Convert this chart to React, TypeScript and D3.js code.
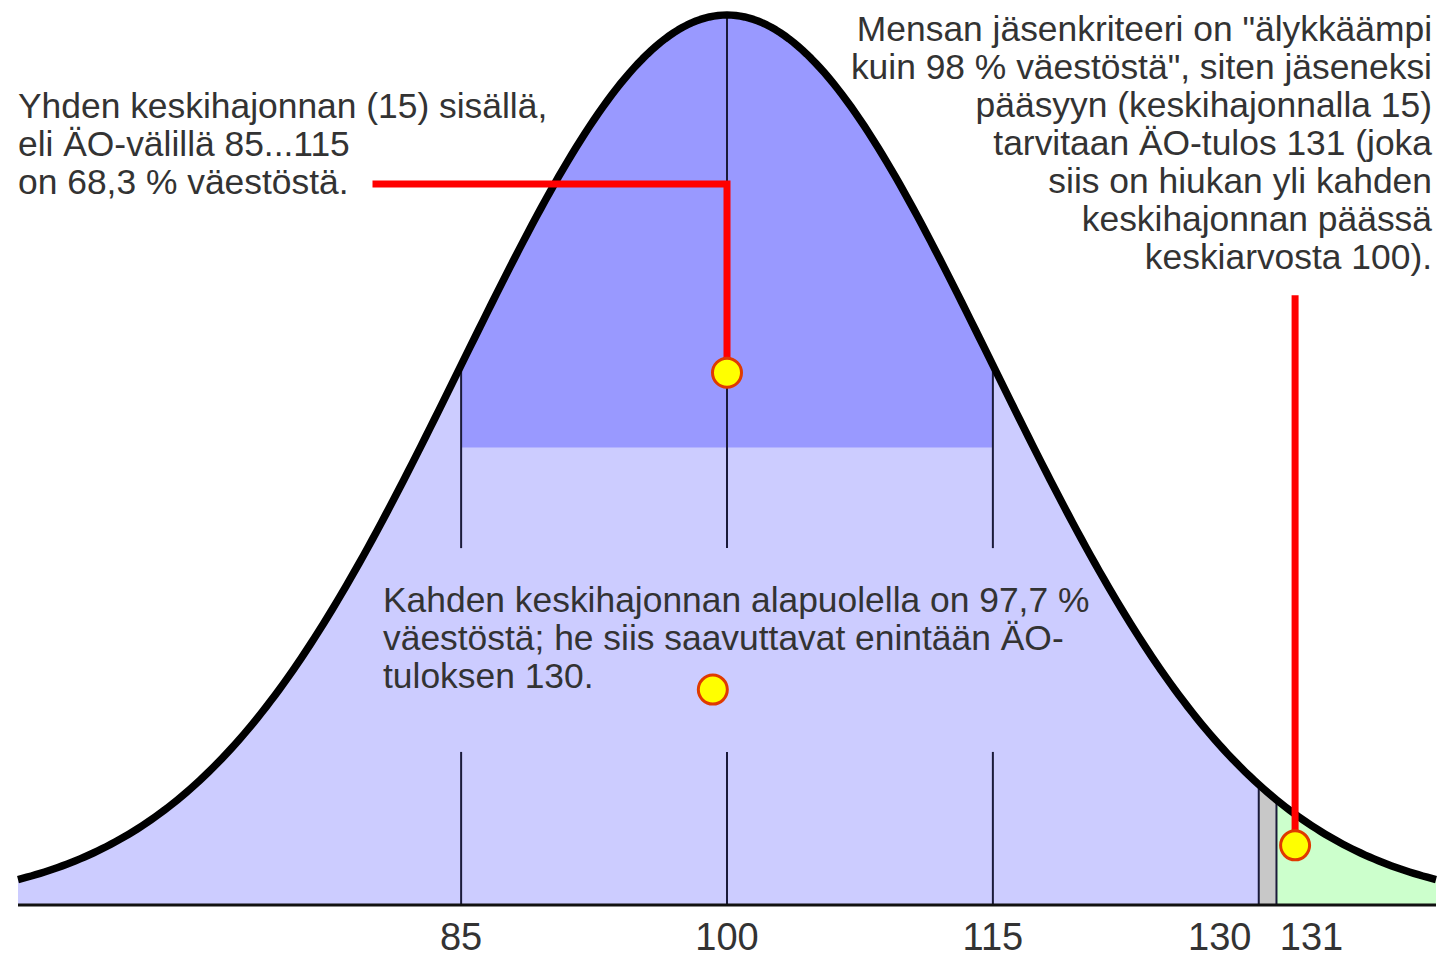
import * as d3 from "d3";

// IQ distribution: mean 100, standard deviation 15
const MEAN = 100;
const SD = 15;
const iqDomain = [60, 140];

const tickValues = [85, 100, 115, 130, 131];
const sigmaBand = [85, 115];
const belowTwoSd = [60, 130];
const gapBand = [130, 131];
const mensaBand = [131, 140];
// top of the dark band, as a share of the peak height
const darkBandTop = 0.514;

// vertical guide lines: [iq, break top, break bottom] (null = no break)
const guides: [number, number | null, number | null][] = [
  [85, 0.401, 0.172],
  [100, 0.401, 0.172],
  [115, 0.401, 0.172],
  [130, null, null],
  [131, null, null],
];

const markers = [
  { iq: 100, level: 0.598 },
  { iq: 99.2, level: 0.242 },
  { iq: 132.05, level: 0.067 },
];

const leaders: [number, number][][] = [
  [
    [80, 0.81],
    [100, 0.81],
    [100, 0.598],
  ],
  [
    [132.05, 0.685],
    [132.05, 0.067],
  ],
];

const leftNote = [
  "Yhden keskihajonnan (15) sisällä,",
  "eli ÄO-välillä 85...115",
  "on 68,3 % väestöstä.",
];
const rightNote = [
  'Mensan jäsenkriteeri on "älykkäämpi',
  'kuin 98 % väestöstä", siten jäseneksi',
  "pääsyyn (keskihajonnalla 15)",
  "tarvitaan ÄO-tulos 131 (joka",
  "siis on hiukan yli kahden",
  "keskihajonnan päässä",
  "keskiarvosta 100).",
];
const middleNote = [
  "Kahden keskihajonnan alapuolella on 97,7 %",
  "väestöstä; he siis saavuttavat enintään ÄO-",
  "tuloksen 130.",
];

const W = 1440;
const H = 960;
const FONT = "'Liberation Sans', Arial, sans-serif";
const TEXT = "#333";

// height relative to the peak (peak = 1)
const rel = (iq: number) => Math.exp(-0.5 * ((iq - MEAN) / SD) ** 2);

const x = d3.scaleLinear().domain(iqDomain).range([18, 1436]);
const y = d3.scaleLinear().domain([0, 1]).range([905, 15]);

const samples = (a: number, b: number) => {
  const pts = d3.range(a, b, 0.25);
  pts.push(b);
  return pts;
};

const underCurve = d3
  .area<number>()
  .x((d) => x(d))
  .y0(y(0))
  .y1((d) => y(rel(d)));

const darkArea = d3
  .area<number>()
  .x((d) => x(d))
  .y0(y(darkBandTop))
  .y1((d) => y(Math.max(rel(d), darkBandTop)));

const curveLine = d3
  .line<number>()
  .x((d) => x(d))
  .y((d) => y(rel(d)));

const leaderLine = d3
  .line<[number, number]>()
  .x((d) => x(d[0]))
  .y((d) => y(d[1]));

const labelNudge = (v: number) => (v === 130 ? -39 : v === 131 ? 35 : 0);

const Note = ({
  lines,
  px,
  top,
  anchor,
}: {
  lines: string[];
  px: number;
  top: number;
  anchor: "start" | "end";
}) => (
  <text
    x={px}
    y={top}
    fontFamily={FONT}
    fontSize={35.4}
    fill={TEXT}
    textAnchor={anchor}
  >
    {lines.map((l, i) => (
      <tspan key={i} x={px} dy={i === 0 ? 0 : 38}>
        {l}
      </tspan>
    ))}
  </text>
);

export default function App() {
  return (
    <svg
      width={W}
      height={H}
      style={{ position: "absolute", left: 0, top: 0, background: "#fff" }}
    >
      <path d={underCurve(samples(belowTwoSd[0], belowTwoSd[1])) ?? ""} fill="#ccccff" />
      <path d={darkArea(samples(sigmaBand[0], sigmaBand[1])) ?? ""} fill="#9999ff" />
      <path d={underCurve(samples(gapBand[0], gapBand[1])) ?? ""} fill="#c8c8c8" />
      <path d={underCurve(samples(mensaBand[0], mensaBand[1])) ?? ""} fill="#ccffcc" />

      {guides.map(([v, a, b]) => {
        const top = y(rel(v));
        const bottom = y(0);
        return a === null || b === null ? (
          <line key={v} x1={x(v)} x2={x(v)} y1={top} y2={bottom} stroke="#1a1a3a" strokeWidth={2} />
        ) : (
          <g key={v} stroke="#1a1a3a" strokeWidth={2}>
            <line x1={x(v)} x2={x(v)} y1={top} y2={y(a)} />
            <line x1={x(v)} x2={x(v)} y1={y(b)} y2={bottom} />
          </g>
        );
      })}

      <path
        d={curveLine(samples(iqDomain[0], iqDomain[1])) ?? ""}
        fill="none"
        stroke="#000"
        strokeWidth={7.5}
        strokeLinejoin="round"
      />

      <line x1={x(iqDomain[0])} x2={x(iqDomain[1])} y1={y(0)} y2={y(0)} stroke="#111" strokeWidth={3} />

      {tickValues.map((v) => (
        <text
          key={v}
          x={x(v) + labelNudge(v)}
          y={950}
          textAnchor="middle"
          fontFamily={FONT}
          fontSize={38}
          fill={TEXT}
        >
          {v}
        </text>
      ))}

      {leaders.map((pts, i) => (
        <path key={i} d={leaderLine(pts) ?? ""} fill="none" stroke="#ff0000" strokeWidth={7} />
      ))}

      {markers.map((m, i) => (
        <circle key={i} cx={x(m.iq)} cy={y(m.level)} r={14.5} fill="#ffff00" stroke="#e03a00" strokeWidth={3} />
      ))}

      <Note lines={leftNote} px={18} top={118} anchor="start" />
      <Note lines={rightNote} px={1432} top={41} anchor="end" />
      <Note lines={middleNote} px={383} top={612} anchor="start" />
    </svg>
  );
}
